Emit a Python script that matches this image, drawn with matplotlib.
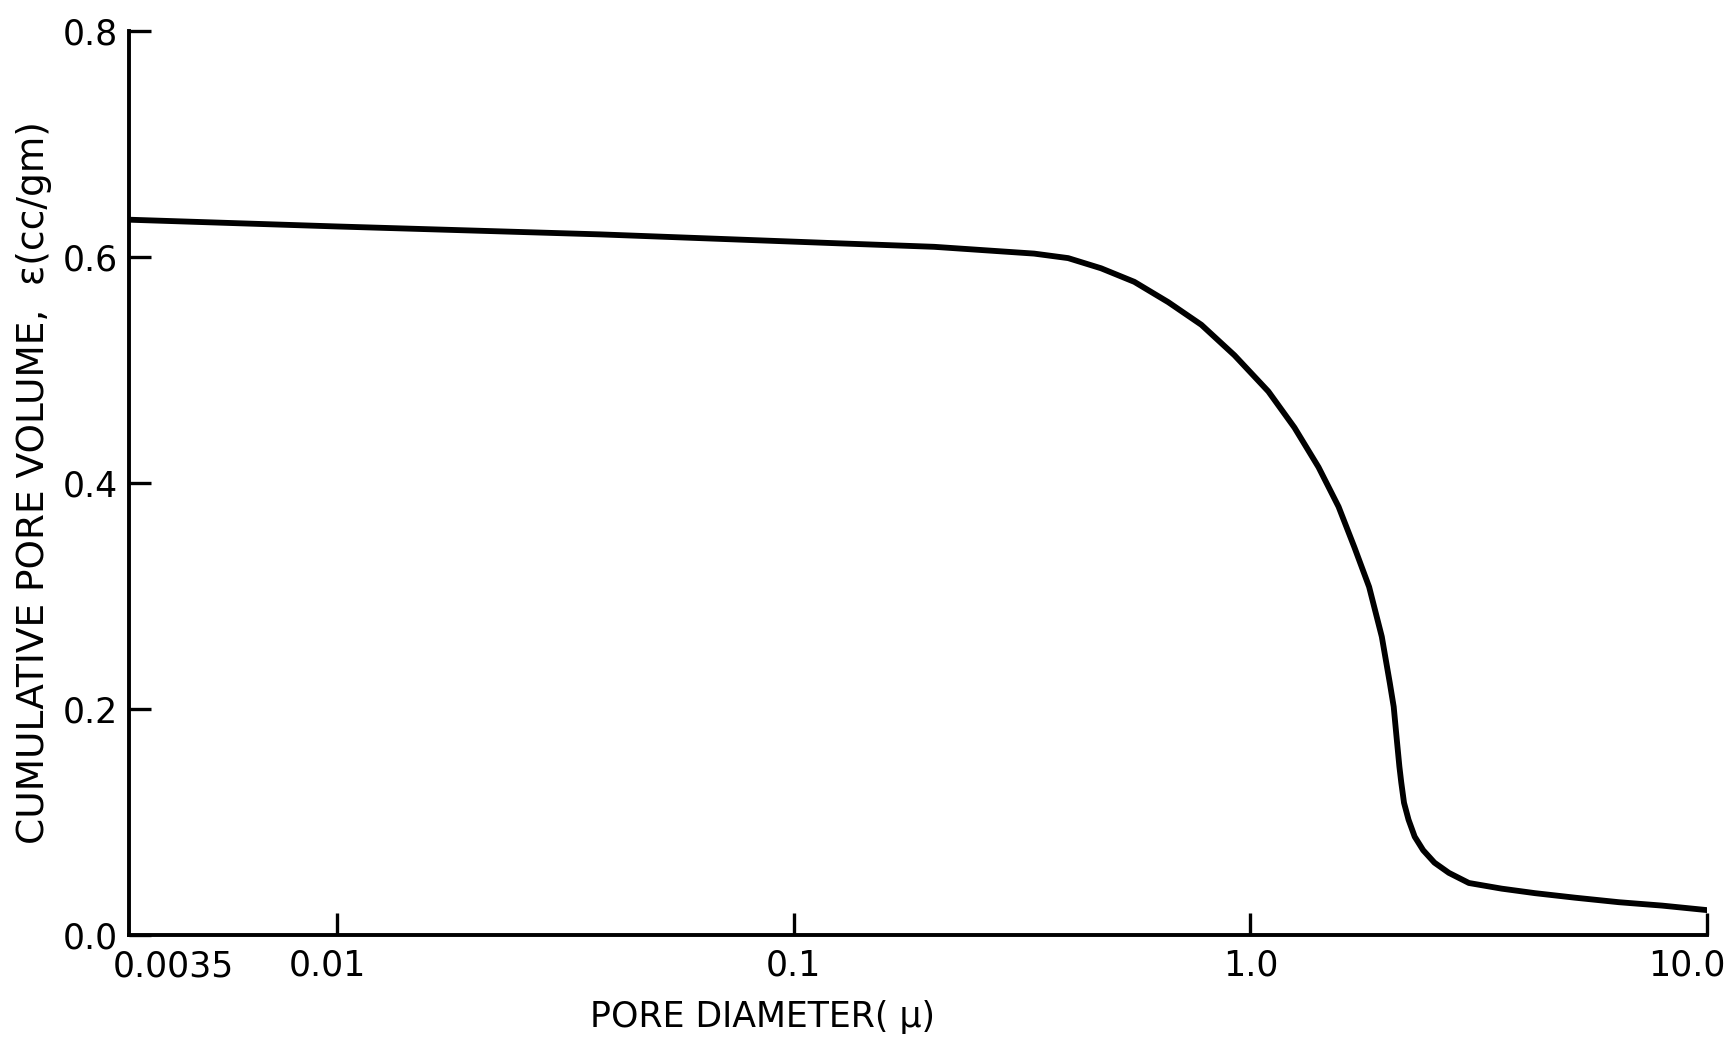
import matplotlib
matplotlib.use("Agg")
import matplotlib.pyplot as plt
from matplotlib.ticker import FixedLocator, NullLocator
from matplotlib.transforms import ScaledTranslation

# datos
diametro = [0.0035, 0.01, 0.0377, 0.127, 0.203, 0.261, 0.336, 0.399, 0.471, 0.557,
            0.661, 0.781, 0.923, 1.095, 1.249, 1.41, 1.56, 1.69, 1.82, 1.94,
            2.02, 2.06, 2.09, 2.12, 2.14, 2.17, 2.22, 2.29, 2.39, 2.53,
            2.72, 3.01, 3.55, 4.20, 5.14, 6.41, 7.97, 10.0]
volumen = [0.633, 0.627, 0.620, 0.612, 0.609, 0.606, 0.603, 0.599, 0.590, 0.578,
           0.560, 0.540, 0.513, 0.481, 0.449, 0.414, 0.379, 0.343, 0.308, 0.264,
           0.223, 0.202, 0.175, 0.149, 0.135, 0.117, 0.102, 0.087, 0.075, 0.064,
           0.055, 0.046, 0.041, 0.037, 0.033, 0.029, 0.026, 0.022]

xticks = [0.01, 0.1, 1.0, 10.0]
xtick_labels = ["0.01", "0.1", "1.0", "10.0"]
yticks = [0.0, 0.2, 0.4, 0.6, 0.8]
ytick_labels = ["0.0", "0.2", "0.4", "0.6", "0.8"]

plt.rcParams['font.family'] = ['DejaVu Sans']

fig = plt.figure(figsize=(17.33, 10.47), dpi=100)
ax = fig.add_axes([0.0744, 0.107, 0.9106, 0.8634])

ax.plot(diametro, volumen, color='black', linewidth=4.2,
        solid_capstyle='round', solid_joinstyle='round')

ax.set_xscale('log')
ax.set_xlim(0.0035, 10.0)
ax.set_ylim(0.0, 0.8)

ax.xaxis.set_major_locator(FixedLocator(xticks))
ax.xaxis.set_minor_locator(NullLocator())
ax.set_xticklabels(xtick_labels)
ax.set_yticks(yticks)
ax.set_yticklabels(ytick_labels)

for lado in ['top', 'right']:
    ax.spines[lado].set_visible(False)
for lado in ['left', 'bottom']:
    ax.spines[lado].set_linewidth(2.8)

ax.tick_params(axis='both', direction='in', length=16, width=2.4, labelsize=25)
ax.tick_params(axis='x', pad=10)
ax.tick_params(axis='y', pad=8)

# mover un poco las etiquetas como en el original
desplaz = {"0.01": -0.1, "10.0": -0.2}
for lab in ax.get_xticklabels():
    dx = desplaz.get(lab.get_text(), 0)
    if dx:
        lab.set_transform(lab.get_transform() + ScaledTranslation(dx, 0, fig.dpi_scale_trans))

# etiqueta del extremo izquierdo (sin marca)
ax.annotate("0.0035", xy=(0.0035, 0), xycoords=('data', 'axes fraction'),
            xytext=(-16, -15), textcoords='offset pixels',
            ha='left', va='top', fontsize=25)

ax.set_ylabel("CUMULATIVE PORE VOLUME,  \u03b5(cc/gm)", fontsize=27)
ax.yaxis.set_label_coords(-0.049, 0.5)
fig.text(763 / 1733, 1 - 1017 / 1047, "PORE DIAMETER( \u03bc)",
         ha='center', va='center', fontsize=25)

fig.savefig("out.png", dpi=100, facecolor='white')
